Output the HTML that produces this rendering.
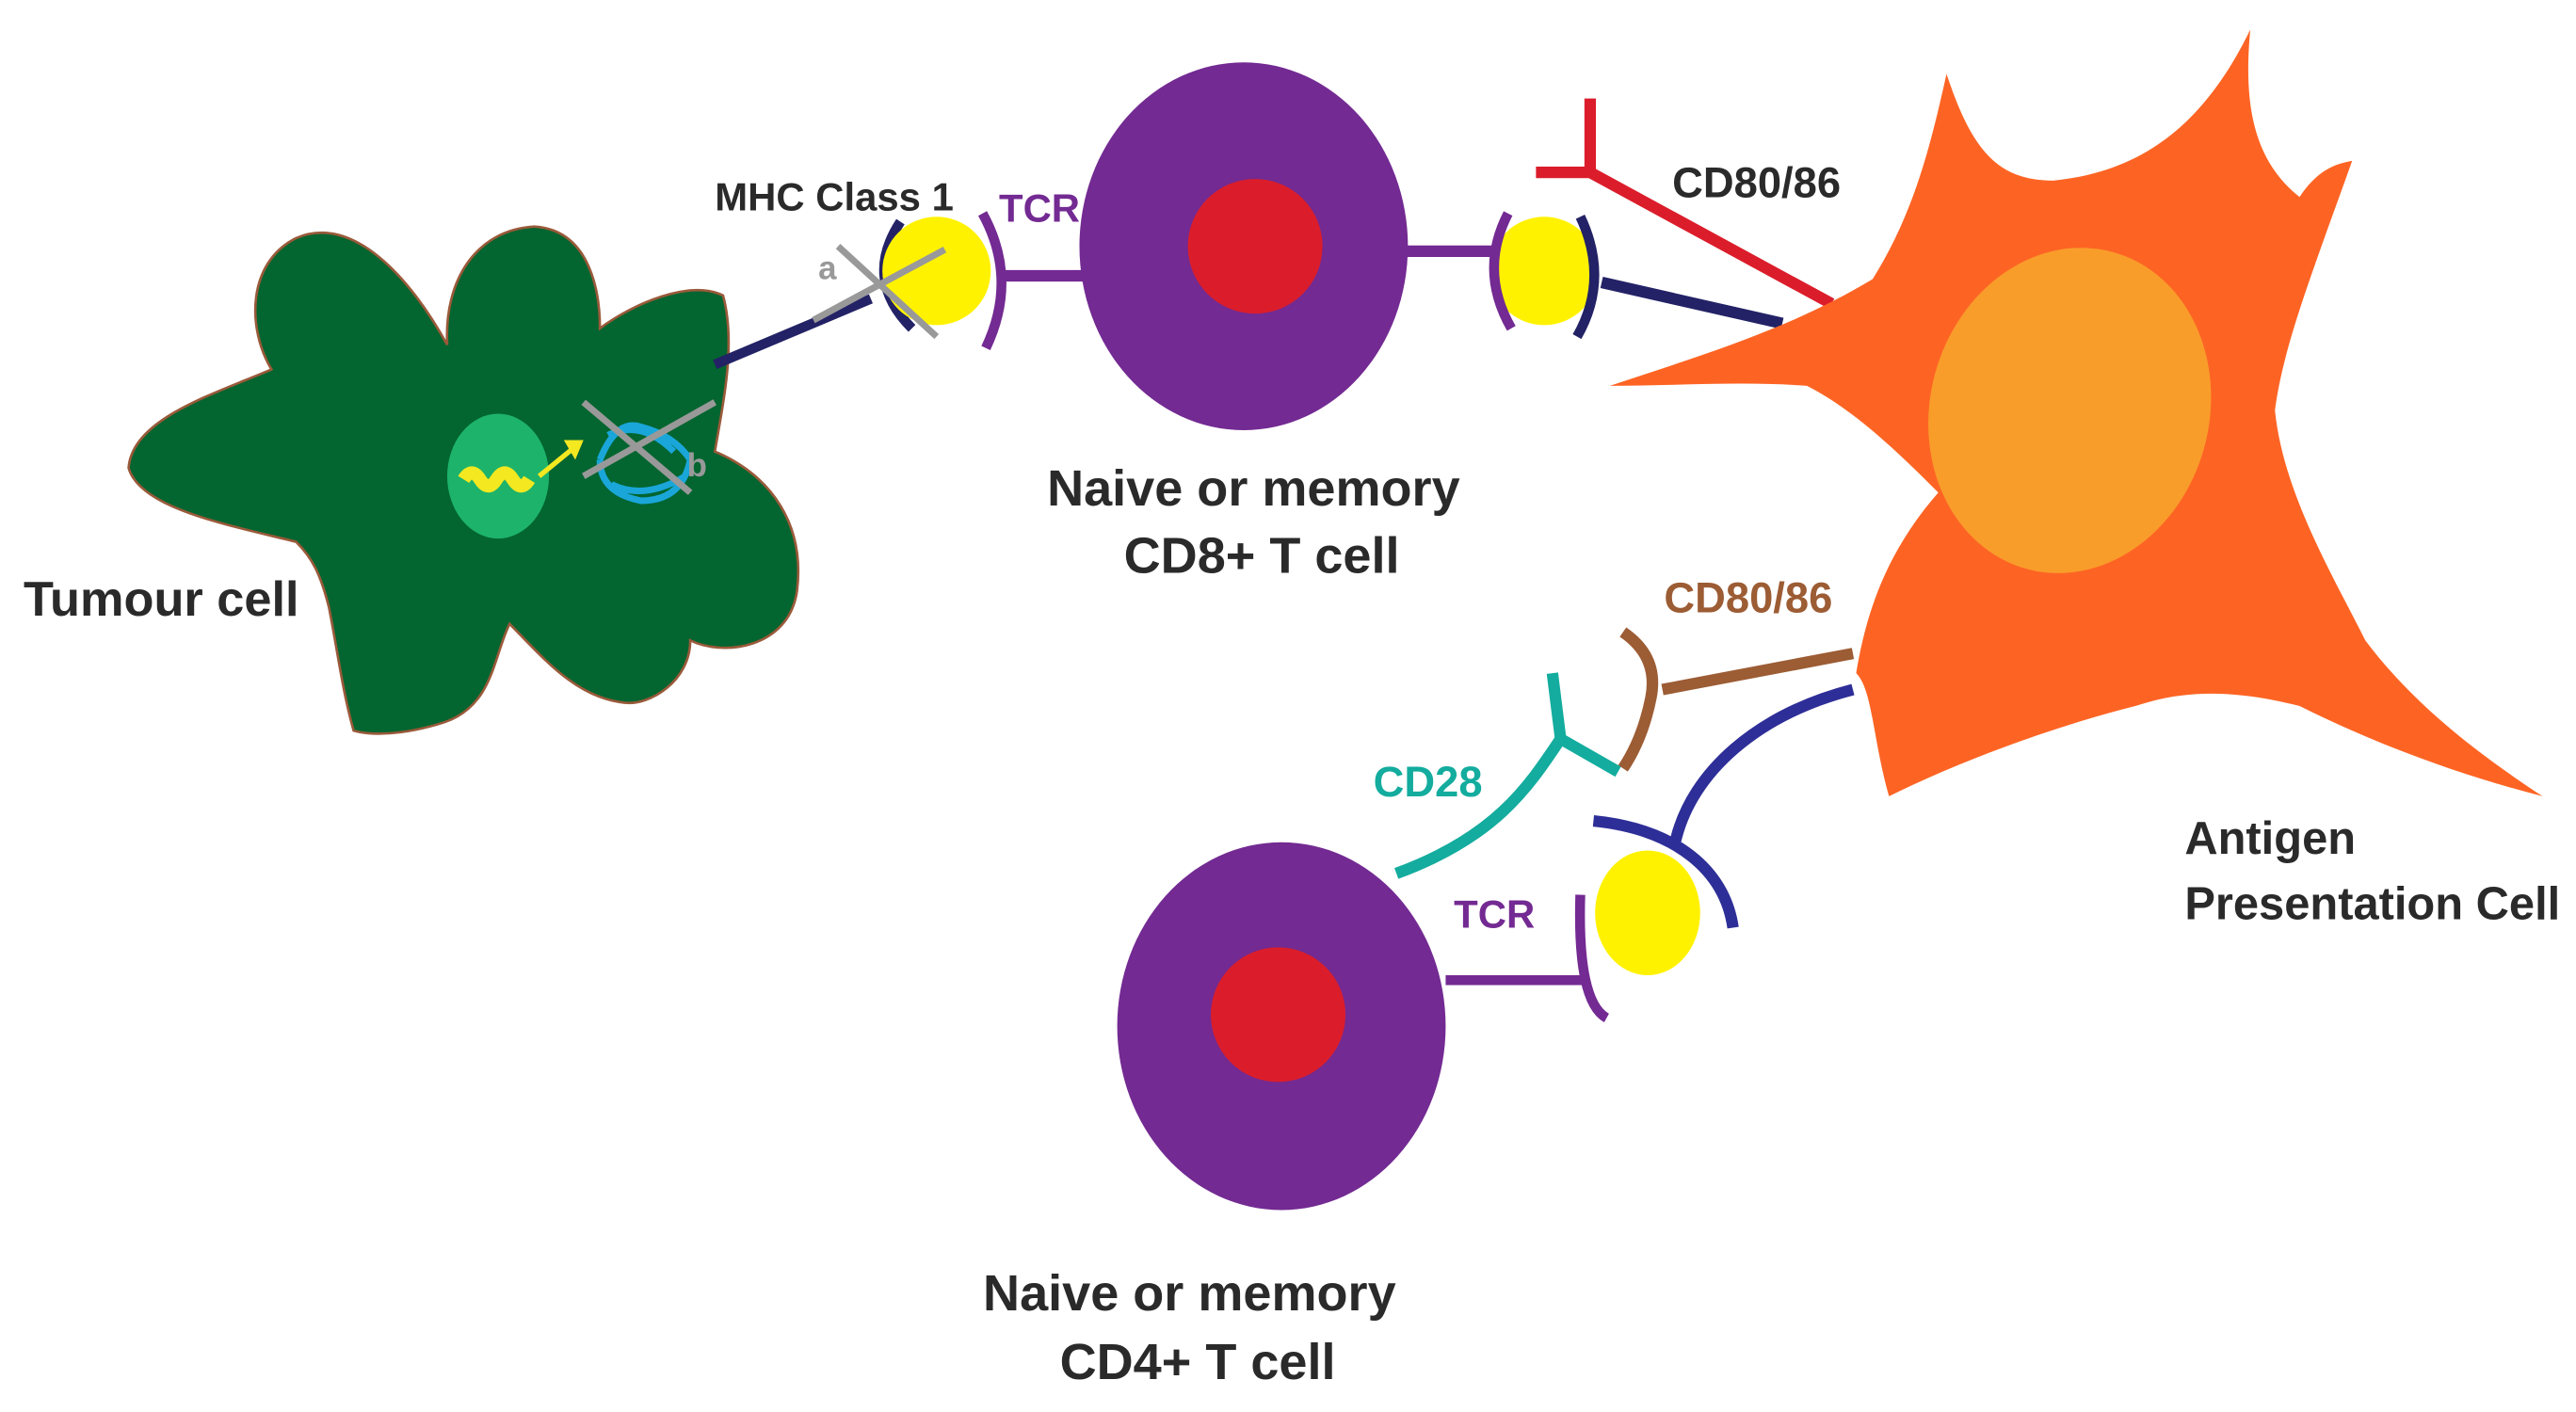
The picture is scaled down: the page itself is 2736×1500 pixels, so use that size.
<!DOCTYPE html>
<html><head><meta charset="utf-8"><style>
html,body{margin:0;padding:0;background:#fff;}
svg{display:block;}
text{font-family:"Liberation Sans",sans-serif;font-weight:bold;}
</style></head><body>
<svg width="2736" height="1500" viewBox="0 0 1568 860" xmlns="http://www.w3.org/2000/svg">
<!-- Tumour cell -->
<path d="M215,445 C208,420 205,395 200,370 C195,350 190,340 180,330 C140,320 85,310 78,285 C80,255 130,240 165,225 C150,200 150,160 180,145 C215,130 250,170 272,210 C270,170 290,140 325,138 C360,140 365,180 365,200 C385,185 420,170 440,180 C448,210 440,245 435,275 C470,290 490,320 485,360 C480,395 440,400 420,390 C420,415 395,430 380,428 C350,425 330,400 310,380 C300,400 300,430 270,440 C245,448 225,448 215,445 Z" fill="#036530" stroke="#9a5a3a" stroke-width="1.5"/>
<ellipse cx="303" cy="290" rx="31" ry="38" fill="#1db36b"/>
<path d="M282,292 q5,-8 10,0 q5,8 10,0 q5,-8 10,0 q5,8 10,0" stroke="#f4e820" stroke-width="8" fill="none"/>
<path d="M328,290 L350,272" stroke="#f4e820" stroke-width="3"/><path d="M343,268 L355,268 L350,280Z" fill="#f4e820"/>
<path d="M365,280 q10,-25 25,-20 q20,5 30,20 q-5,25 -30,25 q-25,-5 -25,-25 M370,265 q20,-10 40,10 M372,295 q20,10 45,-5" stroke="#1aa6d9" stroke-width="4" fill="none"/>
<path d="M355,245 L420,300 M355,290 L435,245" stroke="#999" stroke-width="4"/>
<text x="418" y="290" font-size="20" fill="#999">b</text>
<text x="14" y="375" font-size="30" fill="#2a2a2a">Tumour cell</text>
<!-- MHC -->
<path d="M435,222 L530,182" stroke="#232266" stroke-width="6"/>
<path d="M548,135 Q525,170 555,200" stroke="#232266" stroke-width="6" fill="none"/>
<circle cx="570" cy="165" r="33" fill="#fff200"/>
<path d="M510,150 L570,205 M495,195 L575,152" stroke="#999" stroke-width="4"/>
<text x="498" y="170" font-size="20" fill="#999">a</text>
<text x="435" y="128" font-size="24" fill="#2a2a2a">MHC Class 1</text>
<!-- TCR CD8 -->
<path d="M598,130 Q620,170 600,212" stroke="#732a92" stroke-width="6" fill="none"/>
<path d="M612,168 L665,168" stroke="#732a92" stroke-width="7"/>
<text x="608" y="135" font-size="24" fill="#732a92">TCR</text>
<ellipse cx="757" cy="150" rx="100" ry="112" fill="#732a92"/>
<circle cx="764" cy="150" r="41" fill="#db1d2b"/>
<path d="M855,153 L912,153" stroke="#732a92" stroke-width="7"/>
<circle cx="940" cy="165" r="33" fill="#fff200"/>
<path d="M918,130 Q900,165 920,200" stroke="#732a92" stroke-width="6" fill="none"/>
<path d="M962,132 Q980,170 960,205" stroke="#232266" stroke-width="6" fill="none"/>
<path d="M975,172 L1085,197" stroke="#232266" stroke-width="7"/>
<path d="M935,105 L968,105 M968,60 L968,105 L1115,185" stroke="#db1d2b" stroke-width="7" fill="none"/>
<text x="1018" y="120" font-size="26" fill="#2a2a2a">CD80/86</text>
<text x="763" y="308" font-size="31" fill="#2a2a2a" text-anchor="middle">Naive or memory</text>
<text x="768" y="349" font-size="31" fill="#2a2a2a" text-anchor="middle">CD8+  T cell</text>
<!-- APC -->
<path d="M980,235 C1040,215 1090,200 1140,170 C1165,130 1175,90 1185,45 C1200,90 1215,110 1250,110 C1300,105 1340,80 1370,18 C1365,70 1375,100 1400,120 C1410,105 1420,100 1432,98 C1410,160 1390,210 1385,250 C1390,300 1420,350 1440,390 C1470,430 1510,460 1548,485 C1490,470 1440,450 1400,430 C1360,420 1330,420 1300,430 C1260,440 1200,460 1150,485 C1140,450 1140,420 1130,410 C1135,380 1145,340 1180,300 C1160,280 1130,250 1100,235 C1060,232 1020,235 980,235 Z" fill="#fd6424"/>
<ellipse cx="1260" cy="250" rx="85" ry="100" transform="rotate(15 1260 250)" fill="#f99d2a"/>
<text x="1330" y="520" font-size="28" fill="#2a2a2a">Antigen</text>
<text x="1330" y="560" font-size="28" fill="#2a2a2a">Presentation Cell</text>
<!-- lower -->
<text x="1013" y="373" font-size="26" fill="#9c5c34">CD80/86</text>
<path d="M1128,398 L1012,420" stroke="#9c5c34" stroke-width="7"/>
<path d="M988,385 Q1010,400 1005,425 Q1000,450 988,468" stroke="#9c5c34" stroke-width="7" fill="none"/>
<path d="M1128,420 C1070,435 1030,470 1020,512" stroke="#2e2e98" stroke-width="7" fill="none"/>
<path d="M970,500 C1020,505 1050,530 1055,565" stroke="#2e2e98" stroke-width="7" fill="none"/>
<ellipse cx="1003" cy="556" rx="32" ry="38" fill="#fff200"/>
<path d="M945,410 L950,450 L985,470 M950,450 C930,480 910,510 850,532" stroke="#13ac9e" stroke-width="7" fill="none"/>
<text x="836" y="485" font-size="26" fill="#13ac9e">CD28</text>
<ellipse cx="780" cy="625" rx="100" ry="112" fill="#732a92"/>
<circle cx="778" cy="618" r="41" fill="#db1d2b"/>
<path d="M880,597 L965,597" stroke="#732a92" stroke-width="6"/>
<path d="M962,545 Q960,610 978,620" stroke="#732a92" stroke-width="6" fill="none"/>
<text x="885" y="565" font-size="24" fill="#732a92">TCR</text>
<text x="724" y="798" font-size="31" fill="#2a2a2a" text-anchor="middle">Naive or memory</text>
<text x="729" y="840" font-size="31" fill="#2a2a2a" text-anchor="middle">CD4+  T cell</text>
</svg>
</body></html>
